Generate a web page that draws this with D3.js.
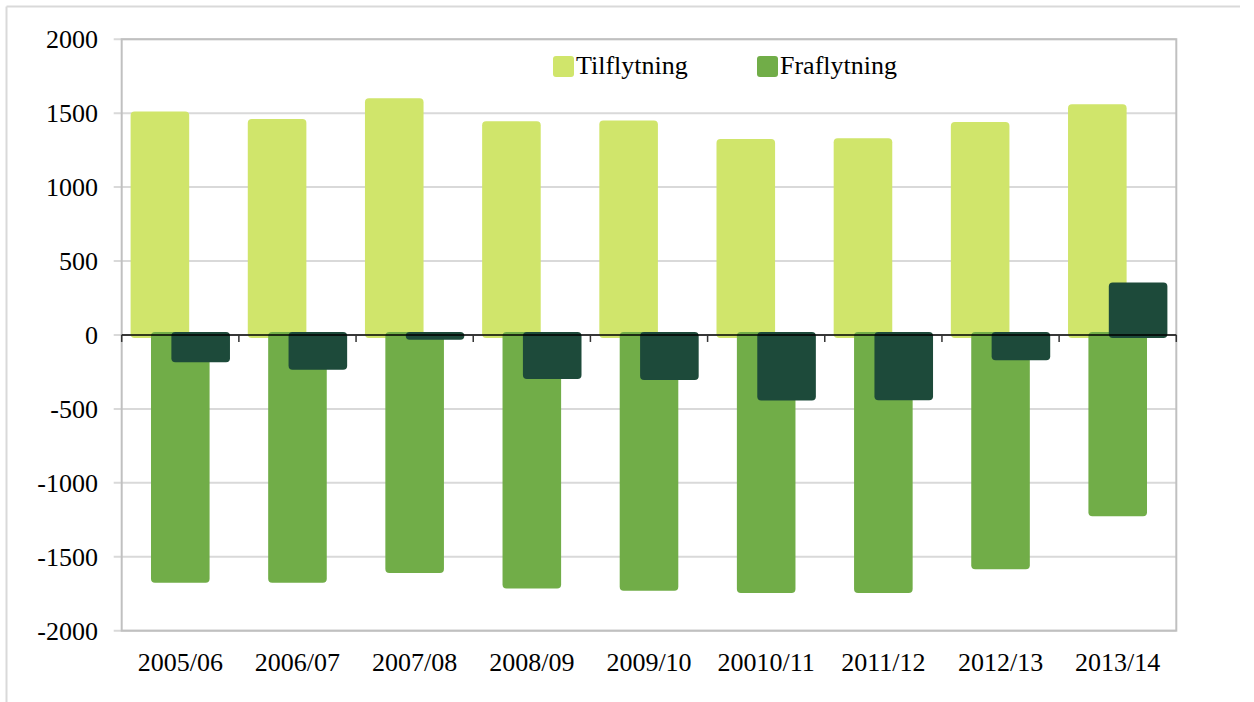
<!DOCTYPE html>
<html>
<head>
<meta charset="utf-8">
<script src="https://cdn.jsdelivr.net/npm/d3@7"></script>
<style>
  body { margin: 0; background: #fff; }
  svg text { font-family: "Liberation Serif", "Times New Roman", serif; fill: #000; }
</style>
</head>
<body>
<div id="graph"></div>
<script>
var years = ["2005/06", "2006/07", "2007/08", "2008/09", "2009/10", "20010/11", "2011/12", "2012/13", "2013/14"];
var tilflytning = [1490, 1440, 1580, 1425, 1430, 1305, 1310, 1420, 1540];
var fraflytning = [-1655, -1655, -1590, -1695, -1710, -1725, -1725, -1565, -1205];
var netto = [-165, -215, -12, -278, -285, -423, -422, -150, 335];
var yTicks = [-2000, -1500, -1000, -500, 0, 500, 1000, 1500, 2000];

var width = 1254, height = 702;
var plotLeft = 121.7, plotRight = 1176.3, plotTop = 39.2, plotBottom = 630.7;

var colors = { til: "#d0e56b", fra: "#71ad48", net: "#1d4a3a" };

var svg = d3.select("div#graph")
    .append("svg")
    .attr("width", width)
    .attr("height", height);

// outer chart border (only top/left visible)
svg.append("line").attr("x1", 6.5).attr("x2", 1240).attr("y1", 6.5).attr("y2", 6.5)
    .attr("stroke", "#d9d9d9").attr("stroke-width", 2);
svg.append("line").attr("x1", 6.5).attr("x2", 6.5).attr("y1", 6.5).attr("y2", 702)
    .attr("stroke", "#d9d9d9").attr("stroke-width", 2);

var y = d3.scaleLinear().domain([-2000, 2000]).range([plotBottom, plotTop]);
var x = d3.scaleBand().domain(years).range([plotLeft, plotRight]).padding(0);
var bw = x.bandwidth();
var barW = bw * 0.5;
var step = bw * 0.174;
var margin = (bw - barW - 2 * step) / 2;
var pad = 3;

// gridlines
svg.append("g")
    .selectAll("line")
    .data(yTicks)
    .enter()
    .append("line")
    .attr("x1", plotLeft - 8)
    .attr("x2", plotRight)
    .attr("y1", function(d) { return y(d); })
    .attr("y2", function(d) { return y(d); })
    .attr("stroke", "#d9d9d9")
    .attr("stroke-width", 2);

// plot area border
svg.append("rect")
    .attr("x", plotLeft).attr("y", plotTop)
    .attr("width", plotRight - plotLeft).attr("height", plotBottom - plotTop)
    .attr("fill", "none")
    .attr("stroke", "#c0c0c0")
    .attr("stroke-width", 2);

// y tick labels
svg.append("g")
    .selectAll("text")
    .data(yTicks)
    .enter()
    .append("text")
    .attr("x", 98)
    .attr("y", function(d) { return y(d); })
    .attr("dy", "0.34em")
    .attr("text-anchor", "end")
    .attr("font-size", 26)
    .text(function(d) { return d; });

function drawSeries(values, idx, color) {
    svg.append("g")
        .selectAll("rect")
        .data(values)
        .enter()
        .append("rect")
        .attr("x", function(d, i) { return x(years[i]) + margin + idx * step; })
        .attr("width", barW)
        .attr("y", function(d) { return Math.min(y(d), y(0)) - pad; })
        .attr("height", function(d) { return Math.abs(y(d) - y(0)) + 2 * pad; })
        .attr("rx", 4)
        .attr("fill", color);
}

drawSeries(tilflytning, 0, colors.til);
drawSeries(fraflytning, 1, colors.fra);
drawSeries(netto, 2, colors.net);

// zero axis with category ticks
svg.append("line")
    .attr("x1", plotLeft).attr("x2", plotRight)
    .attr("y1", y(0)).attr("y2", y(0))
    .attr("stroke", "#000")
    .attr("stroke-width", 1.5);
var bounds = years.map(function(d) { return x(d); }).concat([plotRight]);
svg.append("g")
    .selectAll("line")
    .data(bounds)
    .enter()
    .append("line")
    .attr("x1", function(d) { return d; })
    .attr("x2", function(d) { return d; })
    .attr("y1", y(0))
    .attr("y2", y(0) + 7)
    .attr("stroke", "#333")
    .attr("stroke-width", 1.5);

// category labels
svg.append("g")
    .selectAll("text")
    .data(years)
    .enter()
    .append("text")
    .attr("x", function(d) { return x(d) + bw / 2; })
    .attr("y", 671)
    .attr("text-anchor", "middle")
    .attr("font-size", 26)
    .text(function(d) { return d; });

// legend
var legend = [
    { name: "Tilflytning", color: colors.til, x: 553 },
    { name: "Fraflytning", color: colors.fra, x: 757 }
];
var lg = svg.append("g")
    .selectAll("g")
    .data(legend)
    .enter()
    .append("g")
    .attr("transform", function(d) { return "translate(" + d.x + ",56)"; });
lg.append("rect")
    .attr("width", 21).attr("height", 21)
    .attr("rx", 3)
    .attr("fill", function(d) { return d.color; });
lg.append("text")
    .attr("x", 23)
    .attr("y", 18)
    .attr("font-size", 26)
    .text(function(d) { return d.name; });
</script>
</body>
</html>
